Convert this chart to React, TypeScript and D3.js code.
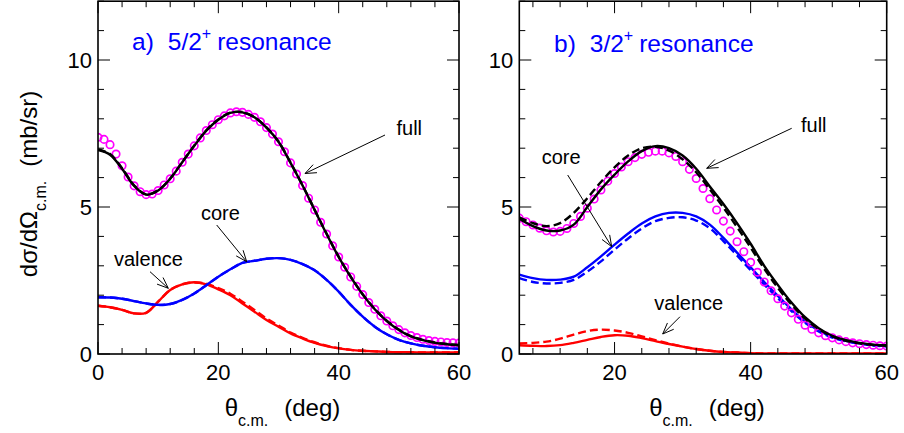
import React from "react";
import * as d3 from "d3";

// panel a: 5/2+ resonance
const thetaA = [0, 2, 4, 6, 8, 10, 12, 14, 16, 18, 20, 22, 24, 26, 28, 30, 32, 34, 36, 38, 40, 42, 44, 46, 48, 50, 52, 54, 56, 58, 60];
const fullA = [6.94, 6.78, 6.3, 5.72, 5.42, 5.56, 5.96, 6.52, 7.08, 7.6, 7.97, 8.2, 8.22, 8.05, 7.7, 7.22, 6.5, 5.73, 4.9, 4.08, 3.3, 2.62, 2.02, 1.52, 1.12, 0.82, 0.6, 0.47, 0.38, 0.33, 0.3];
const fullDashA = [6.96, 6.8, 6.32, 5.74, 5.43, 5.57, 5.97, 6.53, 7.09, 7.61, 7.98, 8.21, 8.23, 8.06, 7.71, 7.23, 6.51, 5.74, 4.91, 4.09, 3.31, 2.63, 2.03, 1.53, 1.13, 0.83, 0.61, 0.48, 0.39, 0.34, 0.31];
const coreA = [1.93, 1.92, 1.88, 1.8, 1.72, 1.67, 1.7, 1.84, 2.06, 2.34, 2.63, 2.88, 3.1, 3.17, 3.24, 3.26, 3.2, 3.06, 2.85, 2.52, 2.12, 1.67, 1.27, 0.93, 0.67, 0.48, 0.36, 0.28, 0.23, 0.2, 0.18];
const valenceA = [1.64, 1.59, 1.5, 1.38, 1.4, 1.78, 2.18, 2.37, 2.44, 2.37, 2.2, 2.0, 1.72, 1.44, 1.16, 0.93, 0.7, 0.53, 0.38, 0.27, 0.19, 0.14, 0.11, 0.09, 0.07, 0.06, 0.06, 0.05, 0.05, 0.05, 0.05];
const valenceDashA = [1.64, 1.59, 1.5, 1.38, 1.4, 1.78, 2.18, 2.37, 2.43, 2.39, 2.24, 2.05, 1.78, 1.5, 1.21, 0.97, 0.73, 0.55, 0.4, 0.28, 0.2, 0.14, 0.11, 0.09, 0.07, 0.06, 0.06, 0.05, 0.05, 0.05, 0.05];
const circThetaA = [0, 1, 2, 3, 4, 5, 6, 7, 8, 9, 10, 11, 12, 13, 14, 15, 16, 17, 18, 19, 20, 21, 22, 23, 24, 25, 26, 27, 28, 29, 30, 31, 32, 33, 34, 35, 36, 37, 38, 39, 40, 41, 42, 43, 44, 45, 46, 47, 48, 49, 50, 51, 52, 53, 54, 55, 56, 57, 58, 59, 60];
const circA = [7.37, 7.3, 7.12, 6.8, 6.4, 6.02, 5.72, 5.52, 5.42, 5.44, 5.56, 5.75, 5.96, 6.22, 6.52, 6.8, 7.08, 7.35, 7.6, 7.8, 7.97, 8.1, 8.2, 8.24, 8.22, 8.15, 8.05, 7.9, 7.7, 7.48, 7.22, 6.88, 6.5, 6.12, 5.73, 5.3, 4.9, 4.48, 4.08, 3.68, 3.3, 2.95, 2.62, 2.3, 2.02, 1.75, 1.52, 1.3, 1.12, 0.96, 0.83, 0.72, 0.63, 0.56, 0.5, 0.46, 0.43, 0.41, 0.39, 0.38, 0.37];

// panel b: 3/2+ resonance
const thetaB = [6, 8, 10, 12, 14, 16, 18, 20, 22, 24, 26, 28, 30, 32, 34, 36, 38, 40, 42, 44, 46, 48, 50, 52, 54, 56, 58, 60];
const fullB = [4.6, 4.35, 4.2, 4.2, 4.4, 5.0, 5.6, 6.1, 6.55, 6.9, 7.07, 7.0, 6.75, 6.3, 5.7, 5.1, 4.45, 3.75, 3.0, 2.35, 1.75, 1.25, 0.88, 0.62, 0.47, 0.38, 0.32, 0.3];
const fullDashB = [4.65, 4.45, 4.35, 4.45, 4.8, 5.3, 5.85, 6.35, 6.75, 7.0, 7.05, 6.92, 6.62, 6.18, 5.6, 4.98, 4.32, 3.62, 2.9, 2.25, 1.68, 1.2, 0.85, 0.6, 0.45, 0.36, 0.31, 0.28];
const coreB = [2.7, 2.58, 2.52, 2.53, 2.63, 2.95, 3.32, 3.72, 4.1, 4.44, 4.68, 4.8, 4.8, 4.68, 4.4, 3.95, 3.45, 2.95, 2.45, 1.98, 1.52, 1.1, 0.8, 0.58, 0.45, 0.36, 0.3, 0.27];
const coreDashB = [2.58, 2.45, 2.4, 2.42, 2.52, 2.8, 3.15, 3.55, 3.93, 4.27, 4.52, 4.63, 4.65, 4.54, 4.28, 3.84, 3.35, 2.85, 2.36, 1.9, 1.46, 1.06, 0.77, 0.56, 0.43, 0.35, 0.29, 0.26];
const valenceB = [0.3, 0.28, 0.27, 0.3, 0.38, 0.48, 0.58, 0.64, 0.62, 0.54, 0.44, 0.34, 0.25, 0.17, 0.11, 0.07, 0.05, 0.03, 0.02, 0.02, 0.02, 0.02, 0.02, 0.02, 0.02, 0.02, 0.02, 0.02];
const valenceDashB = [0.36, 0.38, 0.42, 0.52, 0.66, 0.78, 0.83, 0.8, 0.72, 0.6, 0.47, 0.35, 0.25, 0.17, 0.11, 0.07, 0.05, 0.03, 0.02, 0.02, 0.02, 0.02, 0.02, 0.02, 0.02, 0.02, 0.02, 0.02];
const circThetaB = [6, 7, 8, 9, 10, 11, 12, 13, 14, 15, 16, 17, 18, 19, 20, 21, 22, 23, 24, 25, 26, 27, 28, 29, 30, 31, 32, 33, 34, 35, 36, 37, 38, 39, 40, 41, 42, 43, 44, 45, 46, 47, 48, 49, 50, 51, 52, 53, 54, 55, 56, 57, 58, 59, 60];
const circB = [4.62, 4.5, 4.39, 4.28, 4.19, 4.15, 4.17, 4.27, 4.44, 4.68, 4.96, 5.27, 5.58, 5.88, 6.14, 6.36, 6.54, 6.68, 6.79, 6.86, 6.9, 6.9, 6.84, 6.72, 6.54, 6.28, 5.97, 5.63, 5.28, 4.9, 4.52, 4.18, 3.82, 3.48, 3.12, 2.78, 2.45, 2.15, 1.88, 1.63, 1.4, 1.18, 0.98, 0.84, 0.72, 0.62, 0.55, 0.48, 0.42, 0.38, 0.35, 0.32, 0.3, 0.28, 0.27];

const xMajorA = [0, 20, 40, 60];
const xMajorB = [20, 40, 60];
const yMajor = [0, 5, 10];

const FONT = "'Liberation Sans', Arial, Helvetica, sans-serif";
const BLUE = "#0000ff";
const RED = "#ff0000";
const MAGENTA = "#ff00ff";

type Curve = { x: number[]; y: number[]; color: string; dash?: boolean };
type Note = { text: string; tx: number; ty: number; from: [number, number]; to: [number, number] };

function Arrow({ from, to }: { from: [number, number]; to: [number, number] }) {
  const ang = Math.atan2(to[1] - from[1], to[0] - from[0]);
  const len = 12;
  const a1 = ang + Math.PI - 0.38;
  const a2 = ang + Math.PI + 0.38;
  return (
    <g stroke="#000" strokeWidth={1} fill="none">
      <line x1={from[0]} y1={from[1]} x2={to[0]} y2={to[1]} />
      <polyline
        points={`${to[0] + len * Math.cos(a1)},${to[1] + len * Math.sin(a1)} ${to[0]},${to[1]} ${to[0] + len * Math.cos(a2)},${to[1] + len * Math.sin(a2)}`}
      />
    </g>
  );
}

function Panel(props: {
  xDomain: [number, number];
  xRange: [number, number];
  xMajor: number[];
  curvesBack: Curve[];
  curvesFront: Curve[];
  circX: number[];
  circY: number[];
  label: string;
  jpi: string;
  titleX: number;
  titleY: number;
  notes: Note[];
}) {
  const x = d3.scaleLinear().domain(props.xDomain).range(props.xRange);
  const y = d3.scaleLinear().domain([0, 12]).range([354, 1.2]);
  const [x0, x1] = props.xRange;
  const yb = y(0);
  const yt = y(12);
  const xMinor = d3.range(0, 61, 4).filter((t) => t >= props.xDomain[0] && t <= props.xDomain[1] && t % 20 !== 0);
  const yMinor = d3.range(0, 13, 1).filter((v) => v % 5 !== 0);

  const drawCurve = (c: Curve, i: number) => {
    const pts: [number, number][] = c.x.map((t, k) => [t, c.y[k]]);
    const line = d3
      .line<[number, number]>()
      .x((d) => x(d[0]))
      .y((d) => y(d[1]))
      .curve(d3.curveCatmullRom.alpha(0.5));
    return (
      <path
        key={i}
        d={line(pts) || ""}
        fill="none"
        stroke={c.color}
        strokeWidth={2.4}
        strokeDasharray={c.dash ? "8,4" : undefined}
      />
    );
  };

  return (
    <g>
      <defs>
        <clipPath id={`clip-${x0}`}>
          <rect x={x0} y={yt} width={x1 - x0} height={yb - yt} />
        </clipPath>
      </defs>
      <g clipPath={`url(#clip-${x0})`}>
        {props.curvesBack.map(drawCurve)}
        {props.circX.map((t, k) => (
          <circle key={k} cx={x(t)} cy={y(props.circY[k])} r={3.7} fill="none" stroke={MAGENTA} strokeWidth={1.7} />
        ))}
        {props.curvesFront.map(drawCurve)}
      </g>
      {/* ticks */}
      <g stroke="#000" strokeWidth={1}>
        {props.xMajor.map((t) => (
          <g key={`xm${t}`}>
            <line x1={x(t)} x2={x(t)} y1={yb} y2={yb - 12} />
            <line x1={x(t)} x2={x(t)} y1={yt} y2={yt + 12} />
          </g>
        ))}
        {xMinor.map((t) => (
          <g key={`xn${t}`}>
            <line x1={x(t)} x2={x(t)} y1={yb} y2={yb - 6} />
            <line x1={x(t)} x2={x(t)} y1={yt} y2={yt + 6} />
          </g>
        ))}
        {yMajor.map((v) => (
          <g key={`ym${v}`}>
            <line x1={x0} x2={x0 + 12} y1={y(v)} y2={y(v)} />
            <line x1={x1} x2={x1 - 12} y1={y(v)} y2={y(v)} />
          </g>
        ))}
        {yMinor.map((v) => (
          <g key={`yn${v}`}>
            <line x1={x0} x2={x0 + 6} y1={y(v)} y2={y(v)} />
            <line x1={x1} x2={x1 - 6} y1={y(v)} y2={y(v)} />
          </g>
        ))}
      </g>
      <rect x={x0} y={yt} width={x1 - x0} height={yb - yt} fill="none" stroke="#000" strokeWidth={1.6} />
      {/* tick labels */}
      <g fontFamily={FONT} fontSize={22} fill="#000">
        {props.xMajor.map((t) => (
          <text key={`xl${t}`} x={x(t)} y={380} textAnchor="middle">
            {t}
          </text>
        ))}
        {yMajor.map((v) => (
          <text key={`yl${v}`} x={x0 - 6} y={y(v) + 8} textAnchor="end">
            {v}
          </text>
        ))}
      </g>
      {/* title */}
      <text x={props.titleX} y={props.titleY} fontFamily={FONT} fontSize={24.5} fill={BLUE}>
        {props.label}
        <tspan dx={14}>{props.jpi}</tspan>
        <tspan fontSize={16} dy={-11}>+</tspan>
        <tspan dy={11} dx={6}>resonance</tspan>
      </text>
      {/* annotations */}
      {props.notes.map((n, i) => (
        <g key={i}>
          <text x={n.tx} y={n.ty} fontFamily={FONT} fontSize={20} fill="#000">
            {n.text}
          </text>
          <Arrow from={n.from} to={n.to} />
        </g>
      ))}
      {/* x label */}
      <text x={(x0 + x1) / 2 + 4} y={416} fontFamily={FONT} fontSize={24} fill="#000" textAnchor="middle">
        θ<tspan fontSize={16} dy={10}>c.m.</tspan>
        <tspan dy={-10} dx={16}>(deg)</tspan>
      </text>
    </g>
  );
}

export default function App() {
  return (
    <svg width={904} height={433} style={{ display: "block", position: "absolute", left: 0, top: 0, background: "#fff" }}>
      <rect width={904} height={433} fill="#fff" />
      <text transform="translate(37,184) rotate(-90)" fontFamily={FONT} fontSize={24} fill="#000" textAnchor="middle">
        dσ/dΩ<tspan fontSize={16} dy={9}>c.m.</tspan>
        <tspan dy={-9} dx={14}>(mb/sr)</tspan>
      </text>
      <Panel
        xDomain={[0, 60]}
        xRange={[98, 459]}
        xMajor={xMajorA}
        curvesBack={[
          { x: thetaA, y: valenceA, color: RED },
          { x: thetaA, y: valenceDashA, color: RED, dash: true },
          { x: thetaA, y: coreA, color: BLUE },
          { x: thetaA, y: coreA, color: BLUE, dash: true },
        ]}
        curvesFront={[
          { x: thetaA, y: fullA, color: "#000" },
          { x: thetaA, y: fullDashA, color: "#000", dash: true },
        ]}
        circX={circThetaA}
        circY={circA}
        label="a)"
        jpi="5/2"
        titleX={132}
        titleY={49.5}
        notes={[
          { text: "full", tx: 396.5, ty: 135, from: [385, 135], to: [305, 173.5] },
          { text: "core", tx: 201, ty: 220, from: [216.7, 225], to: [246.7, 261.7] },
          { text: "valence", tx: 114, ty: 265.5, from: [150, 271.7], to: [168.3, 288.3] },
        ]}
      />
      <Panel
        xDomain={[6, 60]}
        xRange={[519.3, 886.7]}
        xMajor={xMajorB}
        curvesBack={[
          { x: thetaB, y: valenceB, color: RED },
          { x: thetaB, y: valenceDashB, color: RED, dash: true },
          { x: thetaB, y: coreB, color: BLUE },
          { x: thetaB, y: coreDashB, color: BLUE, dash: true },
        ]}
        curvesFront={[
          { x: thetaB, y: fullB, color: "#000" },
          { x: thetaB, y: fullDashB, color: "#000", dash: true },
        ]}
        circX={circThetaB}
        circY={circB}
        label="b)"
        jpi="3/2"
        titleX={554}
        titleY={51.5}
        notes={[
          { text: "full", tx: 801, ty: 132.3, from: [791.7, 128.3], to: [706.7, 168.3] },
          { text: "core", tx: 541.7, ty: 164, from: [567.7, 175], to: [611.7, 246.7] },
          { text: "valence", tx: 654.3, ty: 310, from: [680, 316.7], to: [662.7, 334] },
        ]}
      />
    </svg>
  );
}
